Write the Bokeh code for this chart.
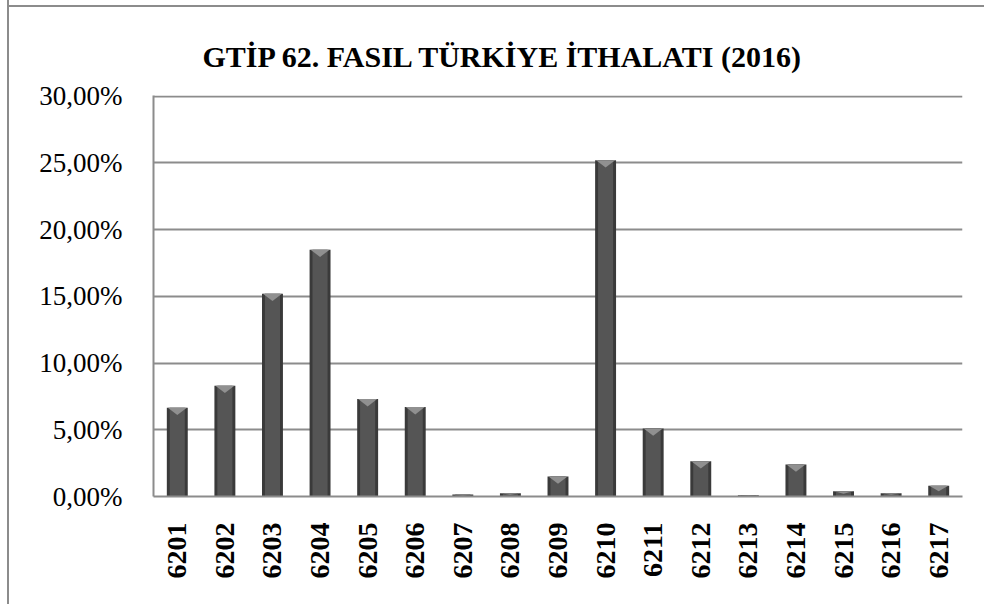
import math
from bokeh.plotting import figure
from bokeh.models import Range1d, FixedTicker, Title
from bokeh.embed import file_html
from bokeh.resources import INLINE

title_text = "GTİP 62. FASIL TÜRKİYE İTHALATI (2016)"
categories = ["6201", "6202", "6203", "6204", "6205", "6206", "6207", "6208", "6209",
              "6210", "6211", "6212", "6213", "6214", "6215", "6216", "6217"]
shares = [6.65, 8.3, 15.2, 18.5, 7.3, 6.7, 0.15, 0.25, 1.5,
          25.2, 5.1, 2.65, 0.1, 2.4, 0.4, 0.25, 0.8]
y_ticks = [0, 5, 10, 15, 20, 25, 30]
y_tick_labels = ["0,00%", "5,00%", "10,00%", "15,00%", "20,00%", "25,00%", "30,00%"]

xs = list(range(len(categories)))

p = figure(width=977, height=611, output_backend="svg", toolbar_location=None,
           x_range=Range1d(-0.5, len(categories) - 0.5), y_range=Range1d(0, 30.05),
           min_border_left=144, min_border_right=24, min_border_top=102, min_border_bottom=108)
p.styles = {"border-left": "2px solid #8c8c8c",
            "margin-left": "7px", "margin-top": "-7px",
            "background": "linear-gradient(#8c8c8c, #8c8c8c) 0px 12px / 100% 2px no-repeat, white"}

p.outline_line_color = None
p.background_fill_color = "white"
p.border_fill_color = None

p.add_layout(Title(text=title_text, align="left", offset=49, standoff=44,
                   vertical_align="middle",
                   text_font="Liberation Serif", text_font_size="30px",
                   text_font_style="bold", text_color="black"), "above")

# grid
p.xgrid.grid_line_color = None
p.ygrid.ticker = FixedTicker(ticks=y_ticks)
p.ygrid.grid_line_color = "#8c8c8c"
p.ygrid.grid_line_width = 2

# bars with bevel look
bw = 0.44
p.vbar(x=xs, top=shares, width=bw, bottom=0, fill_color="#3a3a3a", line_color=None)
p.vbar(x=xs, top=shares, width=bw * 0.72, bottom=0, fill_color="#555555", line_color=None)

# top bevel triangles
tri_xs, tri_ys = [], []
for x, v in zip(xs, shares):
    h = min(0.55, v * 0.5)
    tri_xs.append([x - bw / 2 + 0.02, x + bw / 2 - 0.02, x])
    tri_ys.append([v, v, v - h])
p.patches(tri_xs, tri_ys, fill_color="#909090", line_color=None)

# axes
p.yaxis.ticker = FixedTicker(ticks=y_ticks)
p.yaxis.major_label_overrides = {k: s for k, s in zip(y_ticks, y_tick_labels)}
p.yaxis.major_label_text_font = "Liberation Serif"
p.yaxis.major_label_text_font_size = "27px"
p.yaxis.major_label_text_color = "black"
p.yaxis.major_label_standoff = 31
p.yaxis.major_tick_out = 0
p.yaxis.major_tick_in = 0
p.yaxis.major_tick_line_color = None
p.yaxis.minor_tick_line_color = None
p.yaxis.axis_line_color = "#8c8c8c"
p.yaxis.axis_line_width = 2

p.xaxis.ticker = FixedTicker(ticks=xs)
p.xaxis.major_label_overrides = {k: s for k, s in zip(xs, categories)}
p.xaxis.major_label_orientation = math.pi / 2
p.xaxis.major_label_text_font = "Liberation Serif"
p.xaxis.major_label_text_font_size = "28px"
p.xaxis.major_label_text_font_style = "bold"
p.xaxis.major_label_text_color = "black"
p.xaxis.major_label_standoff = 26
p.xaxis.major_tick_out = 0
p.xaxis.major_tick_in = 0
p.xaxis.major_tick_line_color = None
p.xaxis.minor_tick_line_color = None
p.xaxis.axis_line_color = "#8c8c8c"
p.xaxis.axis_line_width = 2

open("out.html", "w").write(file_html(p, INLINE))
